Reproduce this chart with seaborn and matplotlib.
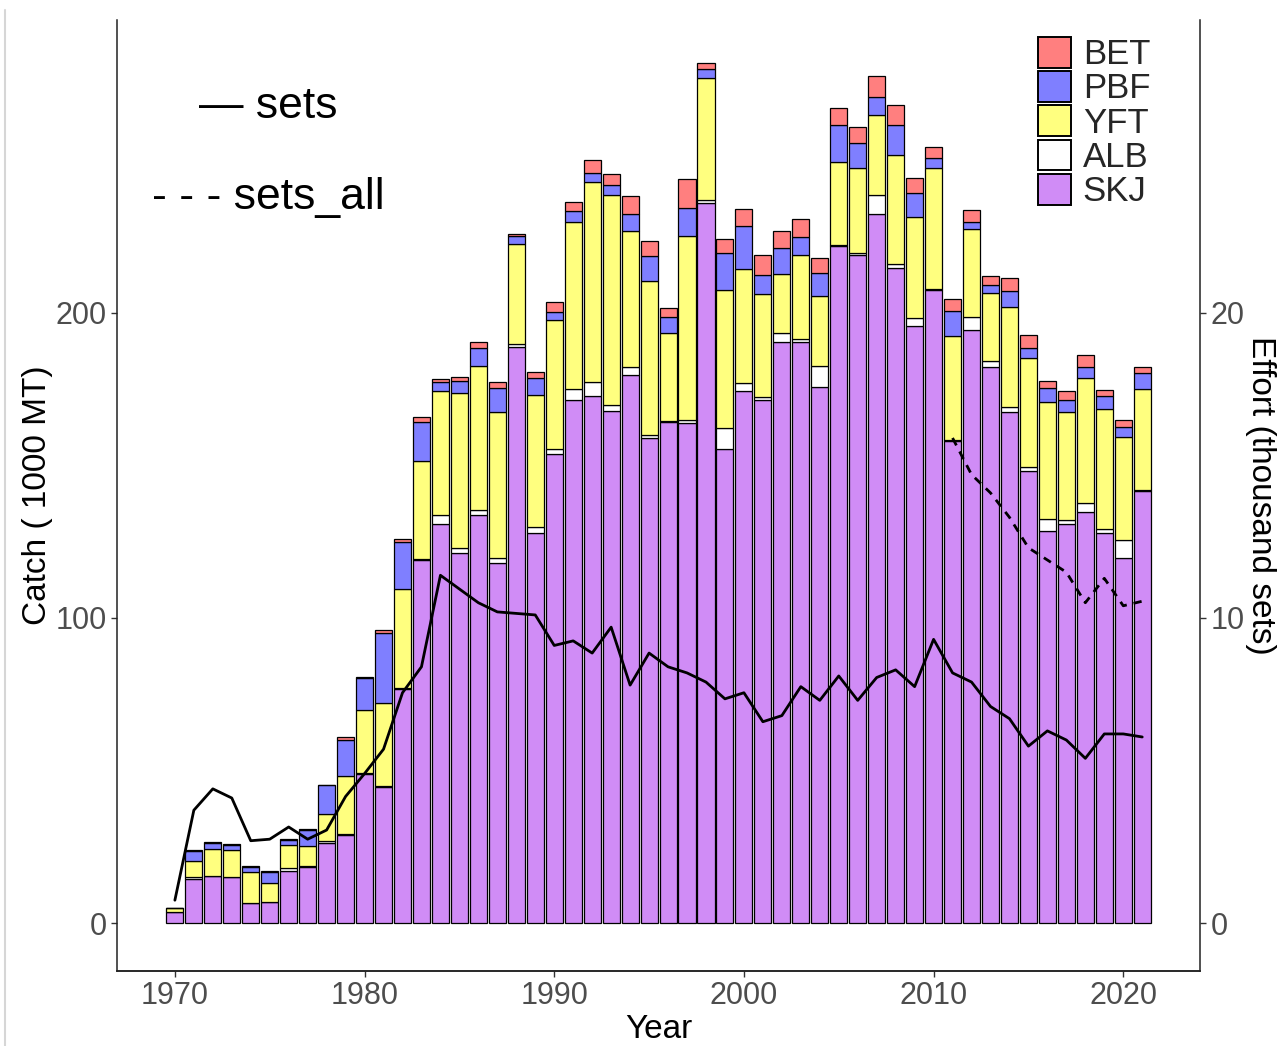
import matplotlib
matplotlib.use("Agg")
import matplotlib.pyplot as plt
from matplotlib.lines import Line2D
import pandas as pd
import seaborn as sns

YEARS = list(range(1970, 2022))

SKJ = [3.5, 14.3, 15.4, 15.0, 6.5, 7.0, 17.1, 18.3, 26.4, 29.0,
       49.0, 44.7, 76.6, 119.0, 130.8, 121.4, 133.8, 118.1, 188.9, 127.9,
       153.8, 171.5, 172.8, 167.9, 179.7, 158.9, 164.4, 164.0, 236.0, 155.3,
       174.5, 171.5, 190.6, 190.4, 175.8, 222.0, 219.0, 232.5, 214.6, 195.8,
       207.5, 158.0, 194.4, 182.2, 167.4, 148.3, 128.5, 130.7, 134.6, 128.0,
       119.6, 141.6]
ALB = [0.0, 0.7, 0.2, 0.2, 0.2, 0.0, 0.8, 0.5, 0.5, 0.3,
       0.2, 0.2, 0.3, 0.3, 3.0, 1.4, 1.6, 1.4, 1.0, 2.0,
       1.6, 3.5, 4.5, 2.0, 2.5, 1.0, 0.3, 1.0, 1.0, 6.9,
       2.4, 1.0, 2.7, 1.0, 6.8, 0.3, 0.5, 6.0, 1.4, 2.4,
       0.3, 0.3, 4.4, 1.9, 1.9, 1.3, 3.8, 1.4, 3.2, 1.1,
       6.0, 0.2]
YFT = [1.5, 5.5, 8.6, 8.8, 10.0, 6.3, 7.7, 6.6, 8.7, 19.0,
       20.8, 27.3, 32.6, 32.0, 40.5, 51.0, 47.2, 47.9, 32.6, 43.2,
       42.3, 54.7, 65.7, 68.9, 44.8, 50.6, 28.6, 60.1, 40.0, 45.3,
       37.4, 33.8, 19.5, 27.7, 23.0, 27.3, 27.9, 26.2, 35.7, 33.1,
       39.6, 34.1, 28.7, 22.4, 32.5, 35.5, 38.6, 35.3, 40.8, 39.3,
       33.7, 33.1]
PBF = [0.0, 3.0, 2.0, 1.5, 1.7, 3.6, 1.5, 5.0, 9.5, 11.8,
       10.4, 23.0, 15.3, 13.0, 3.0, 4.0, 5.8, 7.9, 2.8, 5.5,
       2.5, 3.8, 3.0, 3.0, 5.5, 8.1, 5.2, 9.4, 3.0, 12.2,
       14.1, 6.0, 8.4, 5.8, 7.6, 12.0, 8.4, 5.9, 9.8, 7.9,
       3.4, 8.2, 2.4, 2.5, 5.5, 3.5, 4.4, 4.0, 3.5, 4.2,
       3.3, 5.5]
BET = [0.0, 0.4, 0.4, 0.4, 0.4, 0.3, 0.5, 0.5, 0.3, 0.8,
       0.3, 1.0, 1.0, 1.5, 1.0, 1.3, 2.0, 2.0, 0.5, 2.0,
       3.5, 2.8, 4.2, 3.8, 5.9, 5.0, 3.2, 9.5, 2.0, 4.4,
       5.5, 6.8, 5.5, 6.0, 4.9, 5.5, 5.2, 6.9, 6.6, 4.9,
       3.5, 3.8, 3.8, 3.0, 4.2, 4.0, 2.4, 3.0, 4.2, 2.2,
       2.4, 2.0]

# effort, thousand sets
SETS = [0.75, 3.7, 4.4, 4.1, 2.7, 2.75, 3.15, 2.75, 3.05, 4.15,
        4.9, 5.7, 7.55, 8.4, 11.4, 10.95, 10.5, 10.2, 10.15, 10.1,
        9.1, 9.25, 8.85, 9.7, 7.8, 8.85, 8.4, 8.2, 7.9, 7.35,
        7.55, 6.6, 6.8, 7.75, 7.3, 8.1, 7.3, 8.05, 8.3, 7.75,
        9.3, 8.2, 7.9, 7.1, 6.7, 5.8, 6.3, 6.0, 5.4, 6.2,
        6.2, 6.1]
SETS_ALL_YEARS = list(range(2011, 2022))
SETS_ALL = [15.9, 14.7, 14.1, 13.3, 12.3, 11.9, 11.5, 10.5, 11.3, 10.4, 10.55]

SPECIES = ["BET", "PBF", "YFT", "ALB", "SKJ"]
COLORS = {"BET": "#FF7F7F", "PBF": "#7F7FFF", "YFT": "#FFFF7F",
          "ALB": "#FFFFFF", "SKJ": "#D08CF6"}

sns.set_style("ticks")
plt.rcParams["font.family"] = ["Liberation Sans", "DejaVu Sans"]

catch = pd.DataFrame({"Year": YEARS, "BET": BET, "PBF": PBF, "YFT": YFT,
                      "ALB": ALB, "SKJ": SKJ})
catch_long = catch.melt(id_vars="Year", var_name="species", value_name="catch")

fig = plt.figure(figsize=(12.86, 10.46), dpi=100)
ax = fig.add_axes([0.091, 0.0717, 0.8422, 0.9092])

sns.histplot(data=catch_long, x="Year", weights="catch", hue="species",
             hue_order=SPECIES, multiple="stack", discrete=True, shrink=0.9,
             palette=COLORS, edgecolor="black", linewidth=0.9, alpha=1, ax=ax)

ylo, yhi = -15.7, 296
ax.set_xlim(1966.95, 2024.05)
ax.set_ylim(ylo, yhi)
ax.set_xticks([1970, 1980, 1990, 2000, 2010, 2020])
ax.set_yticks([0, 100, 200])
ax.set_xlabel("Year", fontsize=24, color="black", labelpad=2)
ax.set_ylabel("Catch ( 1000 MT)", fontsize=24, color="black", labelpad=2)

ax2 = ax.twinx()
sns.lineplot(x=YEARS, y=SETS, ax=ax2, color="black", linewidth=2.0)
sns.lineplot(x=SETS_ALL_YEARS, y=SETS_ALL, ax=ax2, color="black",
             linewidth=2.0, linestyle=(0, (3, 2.5)))
ax2.set_ylim(ylo / 10, yhi / 10)
ax2.set_yticks([0, 10, 20])
ax2.set_ylabel("Effort (thousand sets)", fontsize=24, color="black",
               rotation=-90, va="bottom", labelpad=0)

for a in (ax, ax2):
    a.spines["top"].set_visible(False)
    for s in ("left", "right", "bottom"):
        a.spines[s].set_color("#222222")
        a.spines[s].set_linewidth(1.1)
    a.tick_params(labelsize=22, labelcolor="#4D4D4D", color="#333333",
                  length=4, width=1.0)
ax2.spines["left"].set_visible(False)
ax.spines["right"].set_visible(False)

sns.move_legend(ax, "upper left", bbox_to_anchor=(0.8504, 0.9821), title=None,
                frameon=False, fontsize=25, handlelength=0.94,
                handleheight=0.98, handletextpad=0.35, labelspacing=0.0,
                borderaxespad=0, borderpad=0)
leg = ax.get_legend()
for h in leg.legend_handles:
    h.set_edgecolor("black")
    h.set_linewidth(1.4)

ax.text(0.1394, 0.909, "\u2014 sets", transform=ax.transAxes, ha="center",
        va="center", fontsize=32, color="black")
ax.text(0.1394, 0.813, "- - - sets_all", transform=ax.transAxes, ha="center",
        va="center", fontsize=32, color="black")

# light border seen at the left edge of the screenshot
fig.add_artist(Line2D([5 / 1286, 5 / 1286], [0, 0.99], transform=fig.transFigure,
                      color="#d6d6d6", linewidth=1.5))

fig.savefig("out.png", dpi=100)
